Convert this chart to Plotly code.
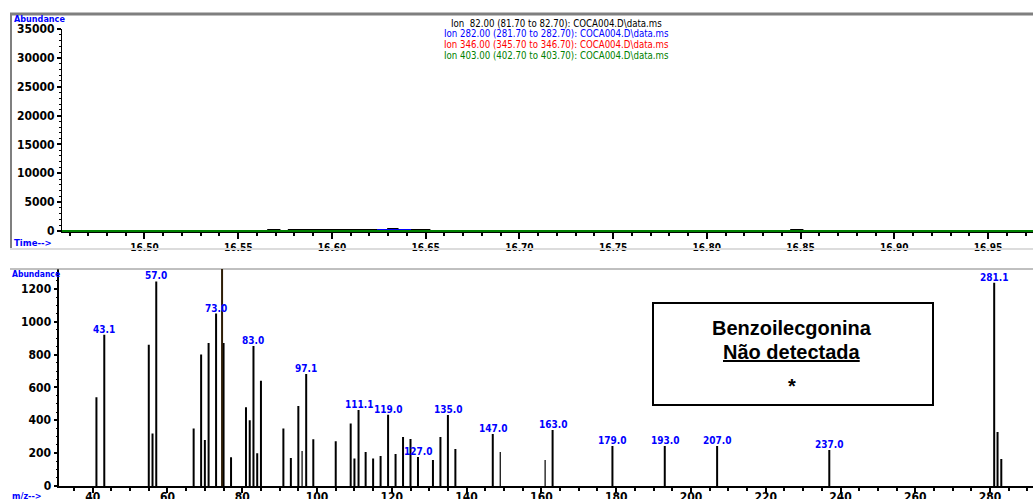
import plotly.graph_objects as go

W, H = 1033, 499


def px(x):
    return x / W


def py(y):
    return 1 - y / H


NARROW = "Liberation Sans Narrow, Arial Narrow, DejaVu Sans Condensed, sans-serif"
ARIAL = "Liberation Sans, Arial, sans-serif"

# ---------------- Top panel: extracted ion chromatograms ----------------
ion_labels = [
    "Ion \u00a082.00 (81.70 to 82.70): COCA004.D\\data.ms",
    "Ion 282.00 (281.70 to 282.70): COCA004.D\\data.ms",
    "Ion 346.00 (345.70 to 346.70): COCA004.D\\data.ms",
    "Ion 403.00 (402.70 to 403.70): COCA004.D\\data.ms",
]
ion82_time = [16.456, 16.566, 16.572, 16.577, 16.630, 16.635, 16.652, 16.845, 16.851, 16.974]
ion82_abund = [0, 170, 0, 170, 340, 170, 0, 170, 0, 0]
ion282_time = [16.456, 16.6246, 16.6417, 16.974]
ion282_abund = [0, 170, 0, 0]
ion346_time = [16.456, 16.974]
ion346_abund = [0, 0]
ion403_time = [16.456, 16.974]
ion403_abund = [0, 0]
time_range = [16.456, 16.974]
abund_ticks_top = [0, 5000, 10000, 15000, 20000, 25000, 30000, 35000]

# ---------------- Bottom panel: mass spectrum ----------------
mz = [41.0, 43.1, 55.0, 56.0, 57.0, 67.0, 69.0, 70.0, 71.0, 73.0, 75.0, 77.0,
      81.0, 82.0, 83.0, 84.0, 85.0, 91.0, 93.0, 95.0, 97.1, 99.0, 105.0,
      109.0, 110.0, 111.1, 113.0, 115.0, 117.0, 119.0, 121.0, 123.0, 125.0,
      127.0, 131.0, 133.0, 135.0, 137.0, 147.0, 163.0, 179.0, 193.0, 207.0,
      237.0, 281.1, 282.0, 283.0]
abund = [540, 920, 860, 320, 1245, 350, 800, 280, 870, 1050, 870, 175,
         480, 400, 853, 200, 640, 350, 170, 487, 682, 284, 272,
         380, 168, 463, 207, 168, 183, 434, 195, 298, 286,
         177, 158, 298, 432, 225, 317, 341, 244, 244, 244,
         219, 1238, 329, 164]
minor_mz = [96.0, 149.0, 161.0]
minor_abund = [213, 207, 158]
labeled_mz = [43.1, 57.0, 73.0, 83.0, 97.1, 111.1, 119.0, 127.0, 135.0,
              147.0, 163.0, 179.0, 193.0, 207.0, 237.0, 281.1]
cursor_mz = 74.6
mz_range = [31.07, 291.48]
abund_ticks_bottom = [0, 200, 400, 600, 800, 1000, 1200]
abund_max_bottom = 1321

fig = go.Figure()

ion_series = [
    (ion82_time, ion82_abund, "black"),
    (ion282_time, ion282_abund, "blue"),
    (ion346_time, ion346_abund, "red"),
    (ion403_time, ion403_abund, "#008000"),
]
for t, a, c in ion_series:
    fig.add_trace(go.Scatter(x=t, y=a, mode="lines", line=dict(color=c, width=2, shape="hv"),
                             xaxis="x", yaxis="y", showlegend=False, hoverinfo="skip"))


def stems(xs, ys):
    sx, sy = [], []
    for x, y in zip(xs, ys):
        sx += [x, x, None]
        sy += [0, y, None]
    return sx, sy


sx, sy = stems(mz, abund)
fig.add_trace(go.Scatter(x=sx, y=sy, mode="lines", line=dict(color="black", width=2),
                         xaxis="x2", yaxis="y2", showlegend=False, hoverinfo="skip"))
sx, sy = stems(minor_mz, minor_abund)
fig.add_trace(go.Scatter(x=sx, y=sy, mode="lines", line=dict(color="black", width=1.2),
                         xaxis="x2", yaxis="y2", showlegend=False, hoverinfo="skip"))

annotations = []
for m in labeled_mz:
    v = abund[mz.index(m)]
    annotations.append(dict(x=m, y=v, xref="x2", yref="y2", text=f"{m:.1f}", showarrow=False,
                            yanchor="bottom", xanchor="center", yshift=-2,
                            font=dict(family=NARROW, size=10, color="blue", weight="bold")))

# legend-like titles
for i, (lab, (_, _, c)) in enumerate(zip(ion_labels, ion_series)):
    annotations.append(dict(x=px(556), y=py(23 + i * 10.8), xref="paper", yref="paper", text=lab,
                            showarrow=False, xanchor="center", yanchor="middle",
                            font=dict(family=NARROW, size=9.6, color=c)))

blue_labels = [("Abundance", 12, 19, 9), ("Time-->", 12, 243, 9.5), ("Abundance", 10, 274, 8.5), ("m/z-->", 10, 496, 9)]
for txt, x, y, s in blue_labels:
    annotations.append(dict(x=px(x), y=py(y), xref="paper", yref="paper", text=txt, showarrow=False,
                            xanchor="left", yanchor="middle",
                            font=dict(family=NARROW, size=s, color="blue", weight="bold")))

# text box
box_texts = [("Benzoilecgonina", 328, 20), ("<u>Não detectada</u>", 352, 20), ("*", 386, 20)]
for txt, y, s in box_texts:
    annotations.append(dict(x=px(792), y=py(y), xref="paper", yref="paper", text=txt, showarrow=False,
                            xanchor="center", yanchor="middle",
                            font=dict(family=ARIAL, size=s, color="black", weight="bold")))

shapes = [
    dict(type="line", xref="paper", yref="paper", x0=px(10), x1=1, y0=py(14), y1=py(14),
         line=dict(color="#7f7f7f", width=3)),
    dict(type="line", xref="paper", yref="paper", x0=px(11), x1=px(11), y0=py(14), y1=py(249),
         line=dict(color="#7f7f7f", width=2)),
    dict(type="line", xref="paper", yref="paper", x0=px(10), x1=1, y0=py(249), y1=py(249),
         line=dict(color="#dcdcdc", width=2)),
    dict(type="line", xref="paper", yref="paper", x0=px(10), x1=1, y0=py(269), y1=py(269),
         line=dict(color="#808080", width=1)),
    dict(type="line", xref="x2", yref="paper", x0=cursor_mz, x1=cursor_mz, y0=py(486), y1=py(269),
         line=dict(color="#2e1d06", width=2)),
    dict(type="rect", xref="paper", yref="paper", x0=px(653), x1=px(933), y0=py(405), y1=py(303),
         line=dict(color="black", width=2), fillcolor="white", layer="above"),
]

tickfont = dict(family=NARROW, size=12, color="black", weight="bold")

fig.update_layout(
    width=W, height=H, margin=dict(l=0, r=0, t=0, b=0, autoexpand=False),
    paper_bgcolor="white", plot_bgcolor="white",
    showlegend=False,
    xaxis=dict(domain=[px(62), 1], range=time_range, anchor="y", automargin=False,
               showgrid=False, zeroline=False, showline=True, linecolor="black", linewidth=1,
               ticks="outside", ticklen=6, tickwidth=1.5, tickcolor="black",
               tick0=16.5, dtick=0.05, tickformat=".2f",
               tickfont=dict(family=NARROW, size=10, color="black", weight="bold"),
               minor=dict(ticks="outside", ticklen=3, tickwidth=1.5, dtick=0.01, tick0=16.5, tickcolor="black", showgrid=False)),
    yaxis=dict(domain=[py(232), py(29)], range=[-175, 35000], anchor="x", automargin=False,
               showgrid=False, zeroline=False, showline=True, linecolor="black", linewidth=1,
               ticks="outside", ticklen=4, tickwidth=1.5, tickcolor="black",
               tickvals=abund_ticks_top, tickformat="d", tickfont=tickfont,
               minor=dict(ticks="outside", ticklen=2, tickwidth=1, dtick=1000, tick0=0, tickcolor="black", showgrid=False)),
    xaxis2=dict(domain=[px(59.3), 1], range=mz_range, anchor="y2", automargin=False,
                showgrid=False, zeroline=False, showline=True, linecolor="black", linewidth=2,
                ticks="outside", ticklen=5, tickwidth=1.5, tickcolor="black",
                tick0=0, dtick=20, tickfont=tickfont, ticklabelstandoff=-6,
                minor=dict(ticks="outside", ticklen=3, tickwidth=1.5, dtick=5, tick0=0, tickcolor="black", showgrid=False)),
    yaxis2=dict(domain=[py(486), py(269)], range=[0, abund_max_bottom], anchor="x2", automargin=False,
                showgrid=False, zeroline=False, showline=True, linecolor="black", linewidth=1.5,
                ticks="outside", ticklen=4, tickwidth=1.5, tickcolor="black",
                tickvals=abund_ticks_bottom, tickfont=tickfont,
                minor=dict(ticks="outside", ticklen=2, tickwidth=1, dtick=50, tick0=0, tickcolor="black", showgrid=False)),
    annotations=annotations,
    shapes=shapes,
)

fig.write_html("out.html")
